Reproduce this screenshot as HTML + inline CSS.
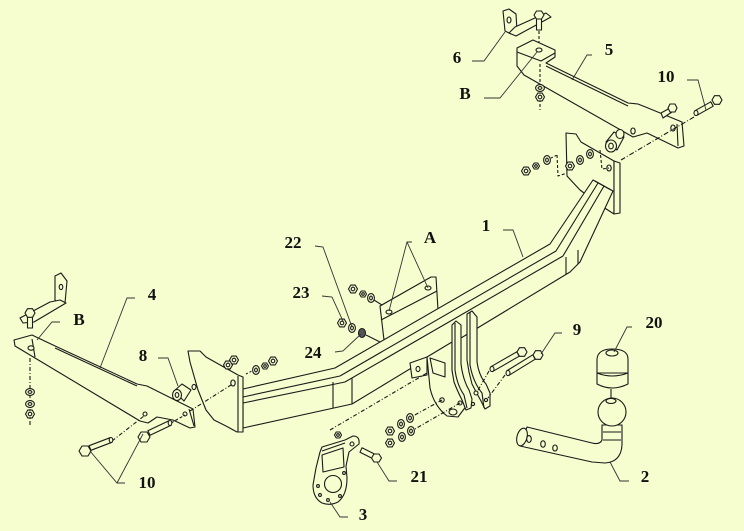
<!DOCTYPE html>
<html><head><meta charset="utf-8">
<style>
html,body{margin:0;padding:0;background:#f6fdcf;}
svg{display:block}
text{font-family:"Liberation Serif","DejaVu Serif",serif;font-weight:bold;font-size:17px;fill:#111}
</style></head><body>
<svg width="744" height="531" viewBox="0 0 744 531" xmlns="http://www.w3.org/2000/svg">
<rect width="744" height="531" fill="#f6fdcf"/>
<defs>
<g id="nut"><polygon points="4.5,0 2.25,3.9 -2.25,3.9 -4.5,0 -2.25,-3.9 2.25,-3.9"/><circle r="1.8"/></g>
<g id="snut"><polygon points="3.5,0 1.75,3 -1.75,3 -3.5,0 -1.75,-3 1.75,-3"/><circle r="1.3"/></g>
<g id="wsh"><ellipse rx="3.4" ry="4.4"/><ellipse rx="1.4" ry="1.9"/></g>
</defs>

<g fill="#f6fdcf" stroke="#1a1a1a" stroke-width="1.1" stroke-linejoin="round">

<!-- ===== Part 6 bracket ===== -->
<polygon points="503,11 509,9 516,14 517,31 511,34 505,31"/>
<ellipse cx="509" cy="20" rx="2" ry="3"/>
<polygon points="509,33 515,27 546,13 551,17 516,36"/>
<rect x="536.5" y="18" width="5" height="12"/>
<polygon points="544,15 541.5,19 536.5,19 534,15 536.5,11 541.5,11"/>
<line x1="539" y1="31" x2="539" y2="48" stroke-dasharray="3,2"/>

<!-- ===== Part 5 arm ===== -->
<polygon points="517,48 533,40 555,50 555,57 546,63 628,103 638,104 648,108 682,122 684,146 678,148 647,133 633,137 524,75 517,66"/>
<polyline points="517,52 541,61 555,53" fill="none"/>
<line x1="546" y1="66" x2="628" y2="106"/>
<ellipse cx="539" cy="50" rx="3" ry="2"/>
<ellipse cx="633" cy="131" rx="2.2" ry="3"/>
<ellipse cx="673" cy="128" rx="2.2" ry="3"/>
<line x1="677" y1="124" x2="678" y2="146"/>
<!-- bolt on arm -->
<polygon points="661,113 670,108 672,112 663,118"/>
<polygon points="677,108 675,112 670,112 668,108 670,104 675,104"/>
<!-- nuts under B -->
<line x1="540" y1="64" x2="540" y2="110" stroke-dasharray="3,2"/>
<use href="#wsh" x="540" y="88" transform="rotate(90 540 88)"/>
<use href="#nut" x="540" y="97"/>

<!-- right bolt 10 -->
<polygon points="713.2,106.2 697.2,115.2 694.8,110.8 710.8,101.8"/>
<ellipse cx="696" cy="113" rx="2" ry="2.6"/>
<polygon points="722,100 719.5,104.3 714.5,104.3 712,100 714.5,95.7 719.5,95.7"/>
<line x1="694" y1="117" x2="621" y2="160" stroke-dasharray="5,2,1,2"/>

<!-- spacer top right -->
<polygon points="606,142 614,132 624,137 617,150"/>
<ellipse cx="620" cy="134" rx="4" ry="4.5" />
<ellipse cx="611" cy="146" rx="5.5" ry="6"/>
<ellipse cx="611" cy="146" rx="2.3" ry="2.8"/>

<!-- ===== upper right plate (part of 1) ===== -->
<polygon points="566,133 576,134 581,142 614,161 614,214 600,205 580,190 567,176"/>
<polygon points="614,161 620,163 620,213 614,214"/>
<ellipse cx="609" cy="168" rx="2.2" ry="3"/>
<use href="#nut" x="570" y="166"/>
<use href="#wsh" x="580" y="160"/>
<use href="#wsh" x="590" y="154"/>
<polyline points="557,155 558,176 567,173" fill="none" stroke-dasharray="3,2"/>
<polyline points="600,150 602,169 609,168" fill="none" stroke-dasharray="3,2"/>
<use href="#nut" x="526" y="171"/>
<use href="#snut" x="536" y="166"/>
<use href="#wsh" x="547" y="160"/>
<line x1="551" y1="158" x2="557" y2="155" stroke-dasharray="2,2"/>

<!-- ===== plate A ===== -->
<polygon points="380,306 431,277 436,277 438,310 384,340"/>
<line x1="381" y1="320" x2="437" y2="291"/>
<ellipse cx="389" cy="312" rx="3" ry="2"/>
<ellipse cx="428" cy="288" rx="3" ry="2"/>
<use href="#nut" x="353" y="289"/>
<use href="#snut" x="363" y="294"/>
<use href="#wsh" x="371" y="298"/>
<line x1="374" y1="300" x2="382" y2="305"/>

<!-- ===== main crossbar (1) ===== -->
<polygon points="243,389 335,368 550,244 593,180 613,191 580,262 570,272 352,404 243,428"/>
<polyline points="243,397 340,376 556,251 598,183" fill="none"/>
<polyline points="243,403 345,382 563,256 604,186" fill="none"/>
<line x1="333" y1="382" x2="333" y2="408"/>
<line x1="352" y1="378" x2="352" y2="404"/>
<line x1="566" y1="257" x2="566" y2="274"/>
<line x1="578" y1="250" x2="578" y2="264"/>
<line x1="595" y1="181" x2="611" y2="190"/>

<!-- nuts 23/22/24 -->
<use href="#nut" x="342" y="323"/>
<use href="#wsh" x="352" y="328"/>
<g fill="#555"><ellipse cx="362" cy="333" rx="3.5" ry="4.5"/></g>
<line x1="366" y1="335" x2="380" y2="342"/>

<!-- ===== left plate (part of 1) ===== -->
<polygon points="188,351 200,351 206,357 238,375 243,377 243,432 237,432 226,426 214,420 206,410 198,390 190,362"/>
<line x1="238" y1="376" x2="238" y2="432"/>
<ellipse cx="233" cy="383" rx="2.2" ry="3"/>
<ellipse cx="194" cy="387" rx="2" ry="2.6"/>
<use href="#nut" x="228" y="365"/>
<use href="#nut" x="234" y="360"/>
<line x1="246" y1="374" x2="252" y2="371" stroke-dasharray="2,2"/>
<use href="#wsh" x="256" y="370"/>
<use href="#snut" x="265" y="366"/>
<use href="#nut" x="273" y="361"/>

<!-- ===== hitch ===== -->
<polygon points="410,363 427,357 427,375 412,378"/>
<ellipse cx="418" cy="369" rx="2" ry="2.6"/>
<path d="M427,357 L452,342 L452,370 Q455,388 462,395 L467,405 L458,417 L447,416 Q434,406 430,388 Z"/>
<polygon points="430,358 445,363 445,377 433,373"/>
<path d="M452,325 L456,321 L461,325 L461,364 Q463,380 469,390 L472,399 L471,408 L466,410 L462,400 Q457,390 454,382 L452,370 Z"/>
<path d="M455,323 L455,370 Q457,385 464,395 L467,408" fill="none"/>
<path d="M467,314 L472,311 L477,317 L477,362 Q479,376 486,384 L490,393 L490,406 L485,409 L481,401 Q476,392 472,384 L469,372 L467,360 Z"/>
<path d="M470,312 L470,365 Q473,382 482,393 L484,408" fill="none"/>
<circle cx="442" cy="400" r="2.2"/>
<circle cx="460" cy="403" r="2"/>
<circle cx="476" cy="393" r="2"/>
<ellipse cx="453" cy="412" rx="4" ry="3"/>
<circle cx="473" cy="404" r="1.6"/>
<circle cx="486" cy="400" r="1.6"/>

<!-- bolts 9 -->
<polygon points="519.2,356.2 493.2,371.2 490.8,366.8 516.8,351.8"/>
<ellipse cx="492" cy="369" rx="2" ry="2.6"/>
<polygon points="527,352 524.5,356.3 519.5,356.3 517,352 519.5,347.7 524.5,347.7"/>
<polygon points="535.2,359.2 509.2,375.2 506.8,370.8 532.8,354.8"/>
<ellipse cx="508" cy="373" rx="2" ry="2.6"/>
<polygon points="543,355 540.5,359.3 535.5,359.3 533,355 535.5,350.7 540.5,350.7"/>
<line x1="489" y1="371" x2="477" y2="392" stroke-dasharray="4,2,1,2"/>
<line x1="505" y1="375" x2="488" y2="398" stroke-dasharray="4,2,1,2"/>

<!-- nuts lower group -->
<line x1="442" y1="400" x2="413" y2="416" stroke-dasharray="4,2,1,2"/>
<line x1="460" y1="403" x2="415" y2="429" stroke-dasharray="4,2,1,2"/>
<use href="#nut" x="390" y="431"/>
<use href="#nut" x="390" y="443"/>
<use href="#wsh" x="401" y="424"/>
<use href="#wsh" x="402" y="437"/>
<use href="#wsh" x="410" y="418"/>
<use href="#wsh" x="411" y="431"/>

<!-- ===== part 3 ===== -->
<line x1="330" y1="430" x2="427" y2="373" stroke-dasharray="4,2,1,2"/>
<use href="#snut" x="338" y="435"/>
<path d="M320,452 L322,447 L345,440 L353,436 Q360,436 359,444 L349,452 L346,466 L347,478 Q347,495 338,502 Q330,506 322,503 Q313,498 313,485 L316,468 Z"/>
<line x1="322" y1="451" x2="345" y2="443"/>
<polygon points="322,455 343,448 344,467 323,472"/>
<circle cx="333" cy="484" r="8.5"/>
<circle cx="352" cy="444" r="2"/>
<circle cx="318" cy="486" r="1.4"/>
<circle cx="320" cy="495" r="1.4"/>
<circle cx="328" cy="500" r="1.4"/>
<circle cx="340" cy="496" r="1.4"/>
<circle cx="344" cy="473" r="1.4"/>
<!-- bolt 21 -->
<polygon points="374,453.8 362,447.8 360,452.2 372,458.2"/>
<polygon points="381.5,458 379,462 374,462 371.5,458 374,454 379,454"/>

<!-- ===== part 20 cover ===== -->
<path d="M597,373 L597,359 Q598,349 612,349 Q628,349 628,359 L628,373 Z"/>
<path d="M597,373 L597,384 Q612,392 628,384 L628,373 Q612,379 597,373 Z"/>
<ellipse cx="612" cy="353" rx="6" ry="3"/>
<line x1="611" y1="389" x2="611" y2="400"/>

<!-- ===== part 2 ball & shank ===== -->
<path d="M527,427 L592,443 Q600,445 602,440 L602,425 L622,425 L622,445 Q621,462 605,463 L592,462 L520,446 Z"/>
<ellipse cx="522" cy="437" rx="5" ry="9" transform="rotate(15 522 437)"/>
<line x1="603" y1="432" x2="621" y2="432"/>
<line x1="603" y1="440" x2="621" y2="440"/>
<circle cx="612" cy="412" r="14"/>
<ellipse cx="611" cy="401" rx="5" ry="2.5"/>
<ellipse cx="529" cy="439" rx="2.3" ry="3.4"/>
<ellipse cx="543" cy="444" rx="2.3" ry="3.2"/>
<ellipse cx="555" cy="448" rx="2.3" ry="3"/>

<!-- ===== part 4 left arm ===== -->
<polygon points="14,340 32,335 53,345 137,384 147,386 193,409 195,427 190,428 173,420 157,417 148,423 140,421 35,358 15,346"/>
<line x1="55" y1="348" x2="137" y2="386"/>
<line x1="32" y1="339" x2="35" y2="357"/>
<ellipse cx="31" cy="348" rx="3" ry="2.2"/>
<circle cx="145" cy="414" r="2"/>
<circle cx="185" cy="414" r="2"/>
<line x1="189" y1="409" x2="194" y2="426"/>
<!-- spacer 8 -->
<polygon points="174,391 182,384 191,390 184,401"/>
<ellipse cx="177" cy="395" rx="4.5" ry="5.5"/>
<ellipse cx="177" cy="395" rx="1.8" ry="2.4"/>
<line x1="190" y1="411" x2="231" y2="385" stroke-dasharray="4,2,1,2"/>
<line x1="171" y1="423" x2="185" y2="415" stroke-dasharray="3,2"/>
<line x1="112" y1="441" x2="144" y2="416" stroke-dasharray="4,2,1,2"/>

<!-- part 4 bracket -->
<polygon points="55,276 61,273 67,281 65,303 60,306 55,300"/>
<ellipse cx="61" cy="287" rx="1.8" ry="2.6"/>
<polygon points="60,300 66,303 34,322 23,323 20,318 50,302"/>
<rect x="27.5" y="315" width="5" height="13"/>
<polygon points="35,313 32.5,317.3 27.5,317.3 25,313 27.5,308.7 32.5,308.7"/>
<line x1="30" y1="358" x2="30" y2="425" stroke-dasharray="4,2,1,2"/>
<use href="#wsh" x="30" y="392" transform="rotate(90 30 392)"/>
<use href="#wsh" x="30" y="404" transform="rotate(90 30 404)"/>
<use href="#nut" x="30" y="414"/>

<!-- bolts 10 left -->
<polygon points="90.9,450.3 111.9,442.3 110.1,437.7 89.1,445.7"/>
<ellipse cx="111" cy="440" rx="1.8" ry="2.5"/>
<polygon points="91,451 88,456 82,456 79,451 82,446 88,446"/>
<polygon points="150.1,435.3 171.1,425.3 168.9,420.8 147.9,430.8"/>
<ellipse cx="170" cy="423" rx="1.8" ry="2.5"/>
<polygon points="150,437 147,442 141,442 138,437 141,432 147,432"/>
</g>

<!-- ===== leader lines ===== -->
<g fill="none" stroke="#333" stroke-width="0.9">
<polyline points="472,61 484,61 505,32"/>
<polyline points="592,55 587,55 572,80"/>
<polyline points="484,98 500,98 537,52"/>
<polyline points="687,80 698,80 706,110"/>
<polyline points="503,230 513,230 523,257"/>
<polyline points="412,242 407,242 389,311"/>
<line x1="407" y1="242" x2="428" y2="288"/>
<polyline points="315,246 323,247 352,327"/>
<polyline points="322,296 332,297 343,321"/>
<polyline points="335,352 343,351 361,334"/>
<polyline points="135,298 127,298 100,368"/>
<polyline points="60,322 52,322 37,340"/>
<polyline points="158,358 168,358 178,386"/>
<polyline points="125,483 117,483 90,451"/>
<line x1="117" y1="483" x2="143" y2="434"/>
<polyline points="562,333 555,333 541,354"/>
<polyline points="632,327 627,327 614,352"/>
<polyline points="629,481 620,481 610,462"/>
<polyline points="397,481 389,481 377,462"/>
<polyline points="348,517 340,517 330,502"/>
</g>

<!-- ===== labels ===== -->
<g text-anchor="middle">
<text x="457" y="63">6</text>
<text x="609" y="55">5</text>
<text x="465" y="99">B</text>
<text x="666" y="82">10</text>
<text x="486" y="231">1</text>
<text x="430" y="243">A</text>
<text x="293" y="248">22</text>
<text x="301" y="298">23</text>
<text x="313" y="358">24</text>
<text x="152" y="300">4</text>
<text x="79" y="325">B</text>
<text x="143" y="361">8</text>
<text x="147" y="488">10</text>
<text x="577" y="335">9</text>
<text x="654" y="328">20</text>
<text x="645" y="482">2</text>
<text x="419" y="482">21</text>
<text x="363" y="520">3</text>
</g>
</svg>
</body></html>
